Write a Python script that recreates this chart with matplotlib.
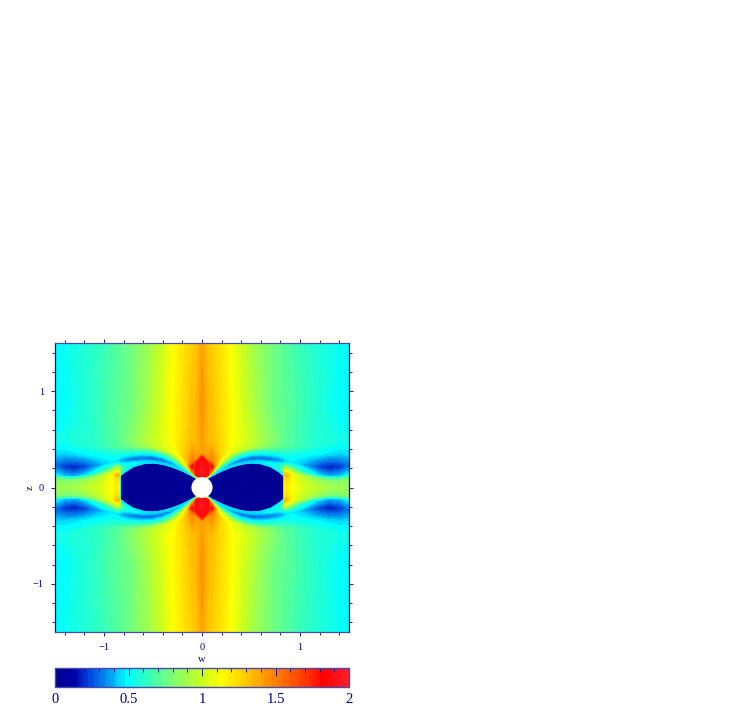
#!/usr/bin/env python3
"""Colour map of a field around a central sphere in the w-z plane, with a colour bar."""

import matplotlib
matplotlib.use("Agg")
import matplotlib.pyplot as plt
from matplotlib.colors import LinearSegmentedColormap
from matplotlib.patches import Circle
import numpy as np

W, H = 729, 721
NAVY = "#000096"
FRAME = "#4a4aa8"

# columns of the upper right quadrant, mirrored later
w_cols = [0, .06, .10, .15, .20, .30, .40, .50, .60, .70, .78, .83, .845, .87, .92, 1.0, 1.1, 1.2, 1.3, 1.4, 1.5]

# rows follow the lobe edge and the blue band, so they differ per column
z_mid = [0] * 21
z_in = [.09, .09, .115, .14, .165, .205, .235, .248, .24, .21, .16, .12, .09, .09, .09, .08, .07, .06, .06, .06, .06]
z_edge = [.10, .10, .123, .148, .173, .213, .243, .256, .248, .218, .168, .128, .13, .13, .14, .13, .11, .10, .095, .095, .10]
z_gap = [.20, .13, .135, .16, .188, .232, .255, .268, .265, .25, .22, .19, .185, .185, .185, .165, .14, .125, .115, .115, .125]
z_band = [.31, .24, .16, .18, .205, .25, .28, .30, .305, .295, .285, .275, .27, .265, .25, .24, .225, .215, .21, .215, .225]
z_outer = [.35, .29, .22, .22, .25, .30, .34, .36, .365, .36, .355, .35, .35, .345, .34, .335, .335, .34, .345, .35, .355]
z_fade = [.42, .40, .27, .30, .33, .37, .40, .42, .43, .43, .43, .43, .43, .43, .43, .43, .43, .44, .45, .46, .47]
z_far = [.5, .8, 1.1, 1.5]

v_mid = [1.9, .03, .03, .03, .03, .03, .03, .03, .03, .03, .03, .03, 1.15, 1.18, 1.13, 1.06, 1.0, .95, .9, .87, .88]
v_in = [1.9, .03, .03, .03, .03, .03, .03, .03, .03, .03, .03, .03, 1.2, 1.25, 1.12, 1.02, .95, .88, .83, .82, .85]
v_edge = [1.9, .6, .5, .45, .45, .45, .45, .45, .45, .45, .45, .45, 1.35, 1.35, 1.1, .95, .85, .75, .68, .7, .75]
v_gap = [1.95, 1.85, .5, .45, .42, .42, .42, .44, .46, .5, .58, .75, 1.05, 1.0, .8, .65, .55, .45, .4, .42, .5]
v_band = [1.85, 1.9, 1.5, .6, .5, .34, .28, .27, .27, .29, .34, .38, .42, .44, .46, .42, .33, .22, .16, .2, .3]
v_outer = [1.42, 1.45, 1.85, 1.25, .95, .68, .58, .56, .55, .54, .54, .54, .54, .54, .53, .5, .48, .47, .45, .44, .45]
v_fade = [1.42, 1.36, 1.5, 1.35, 1.25, 1.09, 1.02, .95, .88, .8, .75, .72, .7, .7, .68, .64, .6, .57, .55, .53, .52]
v_05 = [1.42, 1.34, 1.33, 1.29, 1.24, 1.14, 1.06, .99, .91, .83, .77, .73, .72, .7, .68, .65, .6, .58, .56, .54, .53]
v_08 = [1.45, 1.34, 1.32, 1.28, 1.23, 1.14, 1.04, .95, .86, .78, .74, .73, .72, .71, .69, .66, .61, .57, .53, .5, .47]
v_11 = [1.44, 1.33, 1.31, 1.27, 1.22, 1.13, 1.03, .94, .85, .78, .74, .72, .71, .7, .68, .65, .61, .57, .54, .51, .48]
v_15 = [1.4, 1.31, 1.29, 1.25, 1.21, 1.12, 1.01, .92, .84, .78, .74, .71, .7, .69, .67, .64, .6, .57, .54, .52, .5]

# colour bar anchors, value then colour
cmap_vals = [0, .13, .22, .35, .49, .62, .8, 1.0, 1.136, 1.3, 1.5, 1.7, 1.83, 2.0]
cmap_cols = ["#00008b", "#0000aa", "#0040d8", "#0090f0", "#00ffff", "#30ffc0", "#80ff70", "#c8ff20",
             "#ffff00", "#ffcc00", "#ff8000", "#ff3c00", "#ff0000", "#ff2028"]

x_ticks = [-1, 0, 1]
z_ticks = [-1, 0, 1]
bar_ticks = [0, .5, 1, 1.5, 2]
bar_labels = ["0", "0.5", "1", "1.5", "2"]


def mirror(rows_z, rows_v):
    """Mirror the quadrant tables over both axes."""
    z = np.array(rows_z, dtype=float)
    v = np.array(rows_v, dtype=float)
    z = np.vstack([-z[:0:-1], z])
    v = np.vstack([v[:0:-1], v])
    z = np.hstack([z[:, :0:-1], z])
    v = np.hstack([v[:, :0:-1], v])
    w = np.array(w_cols)
    w = np.concatenate([-w[:0:-1], w])
    return np.tile(w, (z.shape[0], 1)), z, v


def main():
    plt.rcParams["font.family"] = ["Liberation Serif", "DejaVu Serif"]

    fig = plt.figure(figsize=(W / 100, H / 100), dpi=100)
    ax = fig.add_axes([55 / W, (H - 632) / H, 294 / W, 289 / H])
    cax = fig.add_axes([55 / W, (H - 687) / H, 294 / W, 19 / H])

    far = [[z] * len(w_cols) for z in z_far]
    rows_z = [z_mid, z_in, z_edge, z_gap, z_band, z_outer, z_fade] + far
    rows_v = [v_mid, v_in, v_edge, v_gap, v_band, v_outer, v_fade, v_05, v_08, v_11, v_15]
    ww, zz, vv = mirror(rows_z, rows_v)

    stops = [(v / 2, c) for v, c in zip(cmap_vals, cmap_cols)]
    cmap = LinearSegmentedColormap.from_list("field", stops, N=128)
    levels = np.linspace(0, 2, 81)
    cs = ax.contourf(ww, zz, vv, levels=levels, cmap=cmap, vmin=0, vmax=2, antialiased=False)
    ax.add_patch(Circle((0, 0), 0.108, color="white", zorder=3, lw=0))

    ax.set_xlim(-1.5, 1.5)
    ax.set_ylim(-1.5, 1.5)
    ax.set_xticks(x_ticks)
    ax.set_yticks(z_ticks)
    ax.set_xticks(np.arange(-1.4, 1.41, .2), minor=True)
    ax.set_yticks(np.arange(-1.4, 1.41, .2), minor=True)
    ax.tick_params(which="both", direction="out", top=True, right=True, color=NAVY, width=0.6,
                   labelcolor=NAVY, labelsize=7.5, pad=5)
    ax.tick_params(which="major", length=3)
    ax.tick_params(which="minor", length=2)
    ax.set_xlabel("w", color=NAVY, fontsize=7.5, labelpad=2)
    ax.set_ylabel("z", color=NAVY, fontsize=7.5, labelpad=-1, rotation=90)
    for name, spine in ax.spines.items():
        spine.set_color(NAVY if name in ("left", "right") else FRAME)
        spine.set_linewidth(0.9)

    cbar = fig.colorbar(cs, cax=cax, orientation="horizontal", drawedges=False)
    cbar.set_ticks(bar_ticks)
    cbar.set_ticklabels(bar_labels)
    cbar.ax.set_xticks(np.arange(0, 2.01, .1), minor=True)
    cax.tick_params(which="both", direction="in", top=True, bottom=False, color=NAVY, width=0.6,
                    labelcolor=NAVY, labelsize=10.5, pad=4)
    cax.tick_params(which="major", length=6)
    cax.tick_params(which="minor", length=3)
    cax.xaxis.set_ticks_position("top")
    cax.tick_params(axis="x", labelbottom=True, labeltop=False)
    cax.set_xlim(0, 2)
    for spine in cax.spines.values():
        spine.set_color(FRAME)
        spine.set_linewidth(1.0)

    fig.savefig("out.png", dpi=100, facecolor="white")


if __name__ == "__main__":
    main()
